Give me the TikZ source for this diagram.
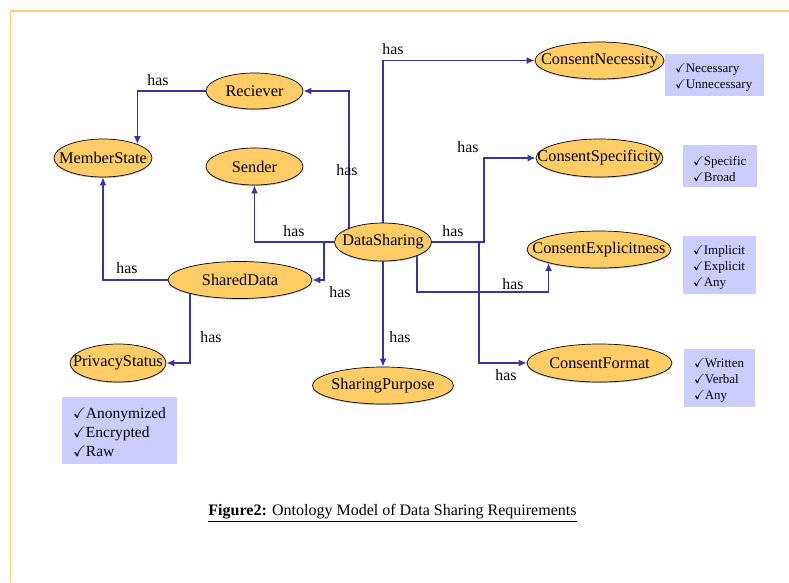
\documentclass[tikz,border=0pt]{standalone}
\usepackage{fontspec}
\usepackage{amssymb}
\setmainfont{Liberation Serif}
\usetikzlibrary{arrows.meta,shapes.geometric,backgrounds,shadows}
\definecolor{framecol}{HTML}{FFD36B}
\definecolor{ellfill}{HTML}{FFCC66}
\definecolor{boxfill}{HTML}{CCCCFF}
\definecolor{linecol}{HTML}{3535A8}
\newcommand{\ck}{$\checkmark$}
\newcommand{\mk}[1]{\makebox[0pt]{#1}}
\tikzset{
  ell/.style={ellipse, draw=black, line width=0.7pt, fill=ellfill, inner sep=0pt,
    font=\fontsize{16.3}{18}\selectfont,
    drop shadow={shadow xshift=0pt, shadow yshift=-1.2pt, opacity=0.45, fill=gray}},
  optbox/.style={rectangle, fill=boxfill, inner sep=0pt},
  boxtxt/.style={inner sep=0pt, align=left, font=\fontsize{13}{16}\selectfont},
  bigtxt/.style={inner sep=0pt, align=left, font=\fontsize{15.5}{19}\selectfont},
  conn/.style={draw=linecol, line width=1.5pt, -{Latex[length=8pt,width=7pt]}},
  lbl/.style={font=\fontsize{15.8}{18}\selectfont, inner sep=0pt},
}
\begin{document}
\begin{tikzpicture}[x=1pt,y=-1pt]
\useasboundingbox (0,0) rectangle (789,582);
\draw[framecol, line width=1.5pt] (10.5,582) -- (10.5,11) -- (789,11);

% ellipses
\node[ell, minimum width=97, minimum height=36] (rec) at (254.5,91) {\mk{Reciever}};
\node[ell, minimum width=98, minimum height=38] (ms) at (103,158) {\mk{MemberState}};
\node[ell, minimum width=97, minimum height=37] (snd) at (254.5,166.5) {\mk{Sender}};
\node[ell, minimum width=97, minimum height=38] (ds) at (383,242) {\mk{DataSharing}};
\node[ell, minimum width=144, minimum height=37] (sd) at (240,280) {\mk{SharedData}};
\node[ell, minimum width=96, minimum height=38] (ps) at (118,363) {\mk{PrivacyStatus}};
\node[ell, minimum width=141, minimum height=37] (sp) at (383,385.5) {\mk{SharingPurpose}};
\node[ell, minimum width=129, minimum height=37] (cn) at (599.5,60.5) {\mk{ConsentNecessity}};
\node[ell, minimum width=127, minimum height=38] (cs) at (599.5,158) {\mk{ConsentSpecificity}};
\node[ell, minimum width=144, minimum height=37] (ce) at (599,249.5) {\mk{ConsentExplicitness}};
\node[ell, minimum width=145, minimum height=38] (cf) at (599.5,363) {\mk{ConsentFormat}};

% option boxes
\node[optbox, minimum width=99, minimum height=42] (bn) at (714.5,75) {};
\node[boxtxt, text width=79] (bnt) at ([yshift=-2.5pt]bn.center) {\ck Necessary\\\ck Unnecessary};
\node[optbox, minimum width=74, minimum height=42] (bs) at (720,166) {};
\node[boxtxt, text width=54] (bst) at ([yshift=-2.5pt]bs.center) {\ck Specific\\\ck Broad};
\node[optbox, minimum width=73, minimum height=58] (be) at (719.5,265) {};
\node[boxtxt, text width=53] (bet) at ([yshift=-2pt]be.center) {\ck Implicit\\\ck Explicit\\\ck Any};
\node[optbox, minimum width=71, minimum height=58] (bf) at (719.5,378) {};
\node[boxtxt, text width=51] (bft) at ([yshift=-2pt]bf.center) {\ck Written\\\ck Verbal\\\ck Any};
\node[optbox, minimum width=115, minimum height=67] (ba) at (119.5,430.5) {};
\node[bigtxt, text width=93] (bat) at ([yshift=-2pt]ba.center) {\ck Anonymized\\\ck Encrypted\\\ck Raw};

% bend points
\coordinate (b3) at (324,242);
\coordinate (b8) at (484,242);
\coordinate (b9) at (479,242);
\coordinate (b10) at (417,292);

\begin{pgfonlayer}{background}
\draw[conn] ([xshift=-34pt]ds.center) |- (rec.east);
\draw[conn] (ds.west) -| (snd.south);
\draw[conn] (ds.west) -- (b3) |- (sd.east);
\draw[conn] (sd.west) -| (ms.south);
\draw[conn] (rec.west) -| (ms.22);
\draw[conn] ([xshift=-50pt]sd.center) |- (ps.east);
\draw[conn] (ds.center) |- (cn.west);
\draw[conn] (ds.east) -- (b8) |- (cs.west);
\draw[conn] (ds.east) -- (b9) |- (cf.west);
\draw[conn] ([xshift=34pt]ds.center) |- (b10) -| (ce.195);
\draw[conn] (ds.south) -- (sp.north);
\end{pgfonlayer}

% labels
\node[lbl] (l1) at (347,170) {has};
\node[lbl] (l2) at (294,231) {has};
\node[lbl] (l3) at (340,292) {has};
\node[lbl] (l4) at (127,268) {has};
\node[lbl] (l5) at (158,80) {has};
\node[lbl] (l6) at (211,337) {has};
\node[lbl] (l7) at (393,49) {has};
\node[lbl] (l8) at (468,147) {has};
\node[lbl] (l9) at (453,231) {has};
\node[lbl] (l10) at (513,284) {has};
\node[lbl] (l11) at (400,337) {has};
\node[lbl] (l12) at (506,375) {has};

% caption
\node[font=\fontsize{16}{18}\selectfont, inner sep=0pt] (cap) at (392.5,513) {\underline{\textbf{Figure2:} Ontology Model of Data Sharing Requirements}};
\end{tikzpicture}
\end{document}
